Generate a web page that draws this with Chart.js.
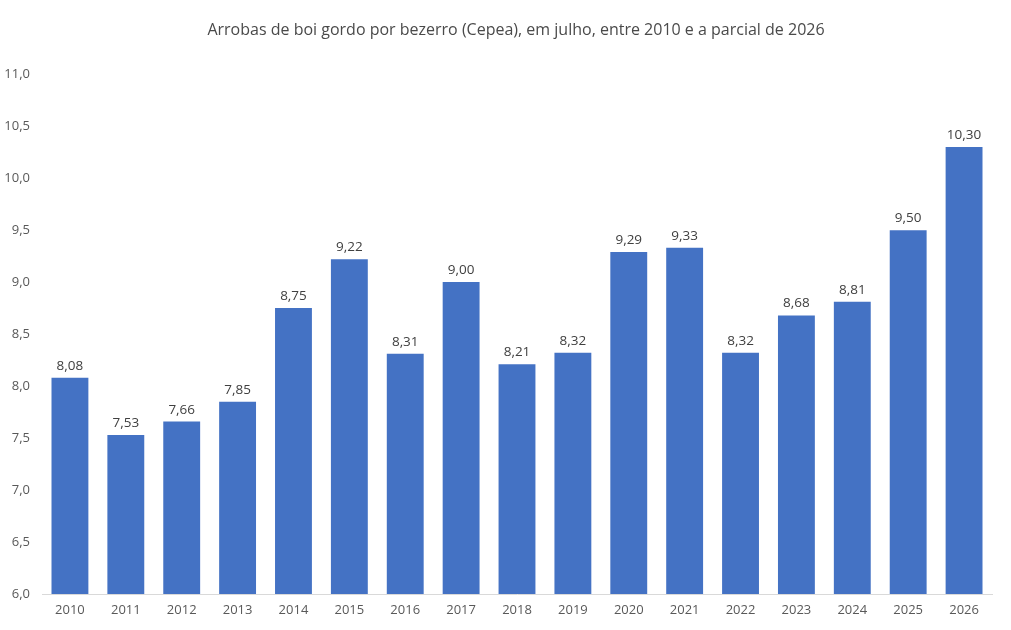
<!DOCTYPE html>
<html><head><meta charset="utf-8">
<script src="https://cdn.jsdelivr.net/npm/chart.js@4/dist/chart.umd.min.js"></script>
<style>html,body{margin:0;padding:0;background:#fff}#wrap{width:1011px;height:630px}</style>
</head><body><div id="wrap"><canvas id="c" width="1011" height="630"></canvas></div>
<script>
const categories = ['2010','2011','2012','2013','2014','2015','2016','2017','2018','2019','2020','2021','2022','2023','2024','2025','2026'];
const values = [8.08,7.53,7.66,7.85,8.75,9.22,8.31,9.00,8.21,8.32,9.29,9.33,8.32,8.68,8.81,9.50,10.30];
const yTicks = [6.0,6.5,7.0,7.5,8.0,8.5,9.0,9.5,10.0,10.5,11.0];
const titleText = 'Arrobas de boi gordo por bezerro (Cepea), em julho, entre 2010 e a parcial de 2026';
const FONT = "'Open Sans', sans-serif";

const labelPlugin = {
  id: 'barLabels',
  afterLayout(chart) {
    const t = chart.titleBlock;
    if (t) { t.left = 40; t.right = 992; t.width = 952; }
  },
  afterDatasetsDraw(chart) {
    const ctx = chart.ctx;
    const meta = chart.getDatasetMeta(0);
    ctx.save();
    ctx.font = "13.5px " + FONT;
    ctx.fillStyle = '#404040';
    ctx.textAlign = 'center';
    ctx.textBaseline = 'bottom';
    meta.data.forEach((bar, i) => {
      ctx.fillText(values[i].toFixed(2).replace('.', ','), bar.x, bar.y - 5);
    });
    ctx.restore();
  }
};

new Chart(document.getElementById('c'), {
  type: 'bar',
  data: { labels: categories, datasets: [{ data: values, backgroundColor: '#4472C4', barPercentage: 0.66, categoryPercentage: 1.0 }] },
  options: {
    responsive: false, animation: false,
    layout: { padding: { left: 4, right: 19, top: 0, bottom: 0 } },
    plugins: {
      legend: { display: false }, tooltip: { enabled: false },
      title: { display: true, text: titleText, color: '#4a4a4a', font: { family: FONT, size: 16, weight: 'normal' }, padding: { top: 21, bottom: 34 } }
    },
    scales: {
      x: {
        grid: { display: false, drawTicks: false },
        border: { display: true, color: '#D9D9D9', width: 1 },
        ticks: { color: '#595959', font: { family: FONT, size: 13 }, padding: 8, maxRotation: 0 },
        afterFit(s) { s.height = 36; }
      },
      y: {
        min: 6, max: 11,
        afterBuildTicks(s) { s.ticks = yTicks.map(v => ({ value: v })); },
        grid: { display: false, drawTicks: false },
        border: { display: false },
        ticks: { color: '#595959', font: { family: FONT, size: 13 }, padding: 12, callback: v => v.toFixed(1).replace('.', ',') },
        afterFit(s) { s.width = 38; }
      }
    }
  },
  plugins: [labelPlugin]
});
</script></body></html>
